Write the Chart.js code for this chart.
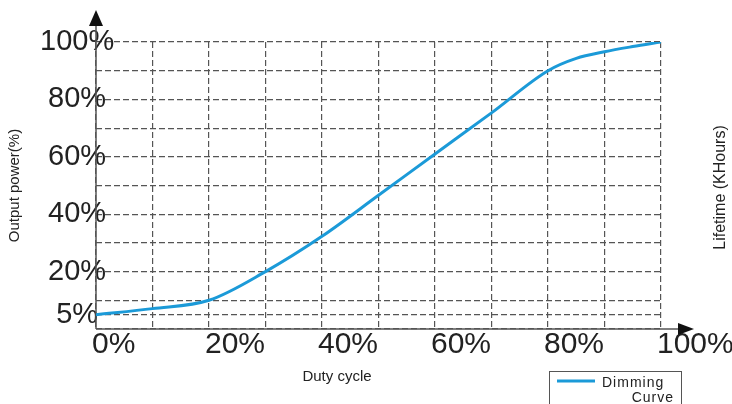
<!DOCTYPE html>
<html>
<head>
<meta charset="utf-8">
<script src="https://cdn.jsdelivr.net/npm/chart.js@4/dist/chart.umd.min.js"></script>
<style>
  body { margin: 0; background: #fff; }
  #wrap { width: 732px; height: 404px; position: relative; }
</style>
</head>
<body>
<div id="wrap"><canvas id="dimChart"></canvas></div>
<script>
// Datos
const dutyCycle = [0, 10, 20, 30, 40, 50, 60, 70, 80, 85, 90, 95, 100];
const outputPower = [5, 7.1, 10, 20, 32.3, 46.6, 61, 75.3, 90, 94.3, 96.6, 98.4, 100];
const xTicks = [0, 10, 20, 30, 40, 50, 60, 70, 80, 90, 100];
const xLabels = [0, 20, 40, 60, 80, 100];
const yTicks = [0, 5, 10, 20, 30, 40, 50, 60, 70, 80, 90, 100];
const yLabels = [5, 20, 40, 60, 80, 100];

const textColor = '#222';
const gridColor = '#555';
const curveColor = '#1b9ad8';

// Ejes con flechas, títulos y leyenda
const decoPlugin = {
  id: 'deco',
  beforeDatasetsDraw(chart) {
    const { ctx, chartArea: a, scales: { x, y } } = chart;
    const x0 = x.getPixelForValue(0), y0 = y.getPixelForValue(0);
    ctx.save();
    ctx.strokeStyle = '#555';
    ctx.lineWidth = 1.5;
    ctx.beginPath();
    ctx.moveTo(x0, y0); ctx.lineTo(x0, a.top - 17);
    ctx.moveTo(x0, y0); ctx.lineTo(a.right + 19, y0);
    ctx.stroke();
    ctx.fillStyle = '#111';
    ctx.beginPath();
    ctx.moveTo(x0, a.top - 32); ctx.lineTo(x0 - 7, a.top - 16); ctx.lineTo(x0 + 7, a.top - 16);
    ctx.closePath(); ctx.fill();
    ctx.beginPath();
    ctx.moveTo(a.right + 33, y0); ctx.lineTo(a.right + 17, y0 - 6); ctx.lineTo(a.right + 17, y0 + 6);
    ctx.closePath(); ctx.fill();
    ctx.restore();
  },
  afterDraw(chart) {
    const { ctx, chartArea: a } = chart;
    const midY = (a.top + a.bottom) / 2;
    ctx.save();
    ctx.fillStyle = textColor;
    ctx.font = '15px "Liberation Sans", Arial, sans-serif';
    ctx.textAlign = 'center';
    ctx.textBaseline = 'middle';
    ctx.fillText('Duty cycle', a.left + 241, a.bottom + 48);

    ctx.save();
    ctx.translate(15, midY);
    ctx.rotate(-Math.PI / 2);
    ctx.fillText('Output power(%)', 0, 0);
    ctx.restore();

    ctx.save();
    ctx.font = '16px "Liberation Sans", Arial, sans-serif';
    ctx.translate(721, midY + 2);
    ctx.rotate(-Math.PI / 2);
    ctx.fillText('Lifetime (KHours)', 0, 0);
    ctx.restore();

    // Leyenda
    const ds = chart.data.datasets[0];
    const lx = a.right - 112, ly = a.bottom + 42;
    ctx.strokeStyle = '#555';
    ctx.lineWidth = 1;
    ctx.strokeRect(lx + 0.5, ly + 0.5, 132, 50);
    ctx.strokeStyle = ds.borderColor;
    ctx.lineWidth = 3;
    ctx.beginPath();
    ctx.moveTo(lx + 8, ly + 10); ctx.lineTo(lx + 46, ly + 10);
    ctx.stroke();
    const parts = ds.label.split(' ');
    ctx.font = '14px "Liberation Sans", Arial, sans-serif';
    ctx.letterSpacing = '1px';
    ctx.textBaseline = 'alphabetic';
    ctx.textAlign = 'left';
    ctx.fillText(parts[0], lx + 53, ly + 16);
    ctx.textAlign = 'right';
    ctx.fillText(parts[1], lx + 125, ly + 31);
    ctx.restore();
  }
};

const ctx = document.getElementById('dimChart').getContext('2d');
new Chart(ctx, {
  type: 'line',
  data: {
    datasets: [{
      label: 'Dimming Curve',
      data: dutyCycle.map((d, i) => ({ x: d, y: outputPower[i] })),
      borderColor: curveColor,
      borderWidth: 3,
      pointRadius: 0,
      tension: 0.4,
      cubicInterpolationMode: 'monotone',
      fill: false
    }]
  },
  options: {
    responsive: true,
    maintainAspectRatio: false,
    animation: false,
    layout: { padding: { left: 0, top: 42, right: 71, bottom: 0 } },
    plugins: { legend: { display: false }, tooltip: { enabled: false } },
    scales: {
      x: {
        type: 'linear',
        min: 0,
        max: 100,
        afterBuildTicks: s => { s.ticks = xTicks.map(v => ({ value: v })); },
        afterFit: s => { s.height = 75; s.paddingLeft = 0; s.paddingRight = 0; },
        grid: { color: gridColor, lineWidth: 1.2, drawTicks: false },
        border: { display: false, dash: [6, 3] },
        ticks: {
          autoSkip: false,
          maxRotation: 0,
          align: 'start',
          labelOffset: -4,
          padding: -2,
          color: textColor,
          font: { family: '"Liberation Sans", Arial, sans-serif', size: 30 },
          callback: v => xLabels.includes(v) ? v + '%' : ''
        }
      },
      y: {
        type: 'linear',
        min: 0,
        max: 100,
        afterBuildTicks: s => { s.ticks = yTicks.map(v => ({ value: v })); },
        afterFit: s => { s.width = 96; s.paddingTop = 0; s.paddingBottom = 0; },
        grid: { color: gridColor, lineWidth: 1.2, drawTicks: false },
        border: { display: false, dash: [6, 3] },
        ticks: {
          autoSkip: false,
          mirror: true,
          crossAlign: 'center',
          padding: -56,
          color: textColor,
          font: { family: '"Liberation Sans", Arial, sans-serif', size: 29 },
          callback: v => yLabels.includes(v) ? v + '%' : ''
        }
      }
    }
  },
  plugins: [decoPlugin]
});
</script>
</body>
</html>
